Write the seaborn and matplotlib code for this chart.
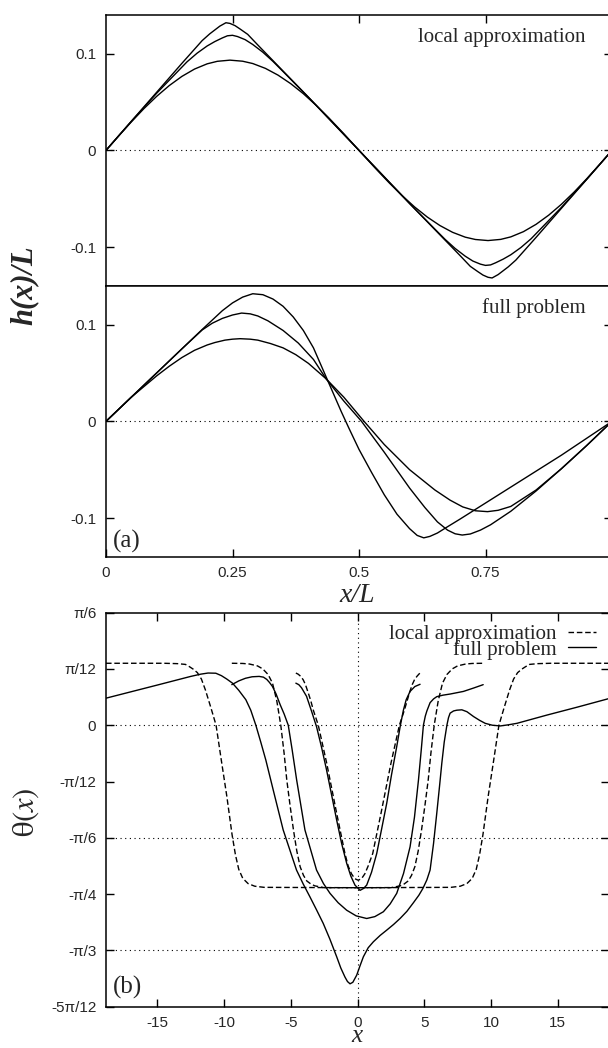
import numpy as np
import pandas as pd
import matplotlib
matplotlib.use('Agg')
import matplotlib.pyplot as plt
import seaborn as sns
from matplotlib.lines import Line2D

# ---- panel (a), local approximation: h(x)/L for three cases ----
loc1_x = [0, 0.05, 0.1, 0.15, 0.19, 0.205, 0.215, 0.225, 0.237, 0.245, 0.255, 0.265, 0.28, 0.3, 0.35, 0.4, 0.45, 0.5,
          0.55, 0.6, 0.65, 0.7, 0.72, 0.735, 0.745, 0.755, 0.763, 0.775, 0.785, 0.795, 0.81, 0.85, 0.9, 0.95, 1.0]
loc1_h = [0, 0.030, 0.060, 0.090, 0.1135, 0.1205, 0.1245, 0.1285, 0.132, 0.1313, 0.129, 0.1255, 0.120, 0.109, 0.082, 0.055, 0.0275, 0,
          -0.0275, -0.055, -0.082, -0.109, -0.120, -0.1255, -0.129, -0.1313, -0.132, -0.1285, -0.1245, -0.1205, -0.1135,
          -0.090, -0.060, -0.030, 0]
loc2_x = [0, 0.05, 0.1, 0.16, 0.18, 0.2, 0.215, 0.23, 0.24, 0.25, 0.26, 0.275, 0.29, 0.31, 0.33, 0.35, 0.4, 0.45, 0.5,
          0.55, 0.6, 0.65, 0.67, 0.69, 0.71, 0.725, 0.74, 0.75, 0.76, 0.77, 0.785, 0.8, 0.82, 0.84, 0.9, 0.95, 1.0]
loc2_h = [0, 0.030, 0.059, 0.0915, 0.1005, 0.108, 0.1125, 0.1163, 0.1185, 0.119, 0.1177, 0.1145, 0.1095, 0.1015, 0.092, 0.0815,
          0.055, 0.0275, 0,
          -0.0275, -0.055, -0.0815, -0.092, -0.1015, -0.1095, -0.1145, -0.1177, -0.119, -0.1185, -0.1163, -0.1125, -0.108,
          -0.1005, -0.0915, -0.059, -0.030, 0]
loc3_x = [0, 0.025, 0.05, 0.075, 0.1, 0.125, 0.15, 0.175, 0.2, 0.22, 0.245, 0.27, 0.29, 0.315, 0.34, 0.365, 0.39, 0.415,
          0.44, 0.47, 0.5,
          0.53, 0.56, 0.585, 0.61, 0.635, 0.66, 0.685, 0.71, 0.73, 0.755, 0.78, 0.8, 0.825, 0.85, 0.875, 0.9, 0.925,
          0.95, 0.975, 1.0]
loc3_h = [0, 0.0149, 0.0294, 0.0432, 0.0558, 0.0670, 0.0765, 0.0841, 0.0895, 0.0921, 0.0933, 0.0922, 0.0898, 0.0848,
          0.0778, 0.0690, 0.0586, 0.0467, 0.0338, 0.0172, 0,
          -0.0172, -0.0338, -0.0467, -0.0586, -0.0690, -0.0778, -0.0848, -0.0898, -0.0922, -0.0933, -0.0921, -0.0895,
          -0.0841, -0.0765, -0.0670, -0.0558, -0.0432, -0.0294, -0.0149, 0]

# ---- panel (a), full problem ----
full1_x = [0, 0.05, 0.1, 0.15, 0.19, 0.23, 0.25, 0.27, 0.29, 0.31, 0.33, 0.35, 0.37, 0.39, 0.41, 0.435, 0.45, 0.465,
           0.48, 0.5, 0.525, 0.55, 0.575, 0.6, 0.615, 0.628, 0.64, 0.655, 0.675, 0.7, 0.75, 0.8, 0.85, 0.9, 0.95, 1.0]
full1_h = [0, 0.025, 0.050, 0.075, 0.095, 0.1145, 0.1225, 0.1285, 0.132, 0.131, 0.1265, 0.119, 0.108, 0.094, 0.076,
           0.046, 0.028, 0.010, -0.007, -0.029, -0.053, -0.076, -0.096, -0.111, -0.118, -0.1205, -0.119, -0.1155,
           -0.109, -0.101, -0.0845, -0.068, -0.0515, -0.035, -0.0175, 0]
full2_x = [0, 0.05, 0.1, 0.15, 0.19, 0.21, 0.23, 0.25, 0.268, 0.285, 0.3, 0.32, 0.35, 0.38, 0.41, 0.435, 0.47, 0.505,
           0.55, 0.6, 0.63, 0.655, 0.675, 0.69, 0.704, 0.72, 0.74, 0.76, 0.8, 0.85, 0.9, 0.95, 1.0]
full2_h = [0, 0.025, 0.050, 0.075, 0.0945, 0.1015, 0.1065, 0.1100, 0.112, 0.1112, 0.1090, 0.104, 0.094, 0.081, 0.064,
           0.044, 0.021, 0.0, -0.032, -0.069, -0.089, -0.104, -0.1125, -0.1163, -0.1176, -0.1165, -0.1125, -0.107,
           -0.093, -0.072, -0.049, -0.025, 0]
full3_x = [0, 0.05, 0.1, 0.125, 0.15, 0.175, 0.2, 0.215, 0.235, 0.25, 0.265, 0.285, 0.3, 0.325, 0.35, 0.375, 0.4, 0.435,
           0.47, 0.51, 0.55, 0.6, 0.65, 0.68, 0.705, 0.73, 0.754, 0.775, 0.8, 0.85, 0.9, 0.95, 1.0]
full3_h = [0, 0.025, 0.047, 0.057, 0.066, 0.0735, 0.079, 0.0815, 0.084, 0.085, 0.0855, 0.085, 0.084, 0.0805, 0.076,
           0.069, 0.060, 0.044, 0.025, 0.0, -0.024, -0.050, -0.071, -0.0815, -0.0885, -0.0925, -0.0934, -0.092,
           -0.088, -0.071, -0.049, -0.025, 0]

# ---- panel (b): theta(x) in degrees (pi/12 = 15 deg) ----
thD1_x = [-18.85, -14.5, -13.5, -12.9, -12.6, -12.3, -12.0, -11.7, -11.4, -11.0, -10.6, -10.2, -9.8, -9.4, -9.15,
          -8.9, -8.6, -8.2, -7.7, -7.0,
          0, 7.0, 7.7, 8.2, 8.6, 8.9, 9.15, 9.4, 9.8, 10.2, 10.6, 11.0, 11.4, 11.7, 12.0, 12.3, 12.6, 12.9, 13.5,
          14.5, 18.85]
thD1_y = [16.5, 16.5, 16.4, 16.2, 15.6, 14.9, 14.0, 12.3, 9.4, 4.8, 0, -9.5, -18.8, -29.2, -34.5,
          -38.4, -40.8, -42.2, -42.9, -43.2,
          -43.3, -43.2, -42.9, -42.2, -40.8, -38.4, -34.5, -29.2, -18.8, -9.5, 0, 4.8, 9.4, 12.3, 14.0, 14.9, 15.6,
          16.2, 16.4, 16.5, 16.5]
thD2_x = [-9.42, -8.6, -8.1, -7.5, -7.1, -6.7, -6.37, -6.05, -5.75, -5.5, -5.3, -5.05, -4.8, -4.55, -4.3, -4.05, -3.8,
          -3.5, -3.2, -2.5,
          0, 2.5, 3.2, 3.5, 3.8, 4.05, 4.3, 4.55, 4.8, 5.05, 5.3, 5.5, 5.75, 6.05, 6.37, 6.7, 7.1, 7.5, 8.1, 8.6, 9.42]
thD2_y = [16.5, 16.45, 16.3, 15.8, 15.0, 13.5, 11.2, 6.5, 0, -7.5, -14.6, -21.5, -27.9, -33.5, -37.7, -40.0, -41.5,
          -42.3, -42.8, -43.3,
          -43.3, -43.3, -42.8, -42.3, -41.5, -40.0, -37.7, -33.5, -27.9, -21.5, -14.6, -7.5, 0, 6.5, 11.2, 13.5, 15.0,
          15.8, 16.3, 16.45, 16.5]
thD3_x = [-4.62, -4.45, -4.25, -4.07, -3.9, -3.7, -3.5, -3.32, -2.94, -2.31, -1.56, -0.94, -0.7, -0.45, -0.2, 0.05,
          0.3, 0.55, 0.8, 1.14, 1.76, 2.51, 3.14, 3.52, 3.72, 3.9, 4.1, 4.27, 4.45, 4.6, 4.69]
thD3_y = [13.9, 13.6, 13.0, 12.1, 10.8, 8.7, 6.5, 4.1, 0, -10.1, -23.5, -34.2, -37.5, -39.6, -40.9, -41.3,
          -40.9, -39.6, -37.5, -34.2, -23.5, -10.1, 0, 4.1, 6.5, 8.7, 10.8, 12.1, 13.0, 13.6, 13.9]
thS1_x = [-18.85, -15.0, -12.5, -11.75, -11.2, -10.62, -10.2, -9.8, -9.37, -8.9, -8.37, -8.0, -7.62, -7.25, -6.87,
          -6.3, -5.57, -5.0, -4.57, -4.07, -3.57, -3.07, -2.57, -2.07, -1.56, -1.25, -0.94, -0.75, -0.56, -0.35,
          -0.06, 0.2, 0.44, 0.8, 1.19, 1.7, 2.19, 2.7, 3.19, 3.7, 4.19, 4.6, 4.9, 5.2, 5.44, 5.7, 5.94, 6.15, 6.32,
          6.5, 6.7, 6.82, 6.94, 7.2, 7.45, 7.82, 8.2, 8.7, 9.15, 9.57, 10.1, 10.7, 11.3, 11.95, 14.2, 16.46, 18.85]
thS1_y = [7.2, 10.7, 13.0, 13.6, 13.9, 13.85, 13.2, 12.3, 11.2, 9.3, 6.8, 4.0, 0, -4.5, -9.3,
          -17.5, -27.9, -34.0, -38.6, -42.3, -45.7, -49.2, -52.8, -57.0, -61.7, -64.7, -67.1, -68.3, -68.9, -68.5,
          -66.6, -64.0, -61.7, -59.3, -57.7, -56.0, -54.6, -53.1, -51.5, -49.6, -47.3, -45.3, -43.5, -41.2, -38.6,
          -31.5, -23.5, -16.2, -10.1, -4.5, 0, 2.0, 3.2, 3.8, 4.0, 4.1, 3.6, 2.3, 1.3, 0.5, 0.0, -0.2, 0.1, 0.5, 2.7,
          4.8, 7.1]
thS2_x = [-9.42, -8.9, -8.4, -7.9, -7.37, -7.05, -6.8, -6.6, -6.37, -6.1, -5.8, -5.5, -5.19, -4.9, -4.56, -3.94,
          -3.07, -2.55, -2.06, -1.45, -0.81, -0.1, 0.69, 1.3, 1.94, 2.45, 2.94, 3.45, 3.94, 4.27, 4.57, 4.78, 4.94,
          5.08, 5.2, 5.44, 5.7, 5.94, 6.4, 6.94, 7.94, 8.7, 9.42]
thS2_y = [10.8, 11.8, 12.5, 12.9, 13.0, 12.8, 12.2, 11.4, 10.3, 8.3, 5.5, 3.0, 0, -6.5, -14.6, -27.9,
          -38.6, -42.2, -44.8, -47.3, -49.3, -50.8, -51.5, -51.0, -49.7, -47.6, -44.8, -39.5, -32.4, -24.5, -14.6,
          -6.5, 0, 2.4, 3.8, 6.0, 7.0, 7.6, 8.0, 8.3, 9.0, 9.9, 10.8]
thS3_x = [-4.62, -4.4, -4.2, -3.82, -3.45, -3.07, -2.7, -2.32, -1.94, -1.56, -1.19, -0.81, -0.5, -0.19, 0.19, 0.45,
          0.69, 1.05, 1.44, 1.8, 2.19, 2.55, 2.94, 3.2, 3.44, 3.65, 3.94, 4.3, 4.69]
thS3_y = [11.2, 10.8, 10.0, 7.7, 3.8, -0.4, -5.8, -11.9, -18.6, -25.3, -31.5, -36.8, -40.2, -42.6, -44.0, -43.5,
          -42.6, -39.2, -34.2, -27.8, -20.8, -13.2, -5.7, -0.3, 4.0, 6.8, 9.0, 10.3, 10.9]


def frame(xs, ys, name, model=None):
    d = pd.DataFrame({'x': xs, 'y': ys, 'curve': name})
    if model is not None:
        d['model'] = model
    return d


df_loc = pd.concat([frame(loc1_x, loc1_h, 'a'), frame(loc2_x, loc2_h, 'b'), frame(loc3_x, loc3_h, 'c')])
df_full = pd.concat([frame(full1_x, full1_h, 'a'), frame(full2_x, full2_h, 'b'), frame(full3_x, full3_h, 'c')])
df_theta = pd.concat([
    frame(thD1_x, thD1_y, 'D1', 'local approximation'),
    frame(thD2_x, thD2_y, 'D2', 'local approximation'),
    frame(thD3_x, thD3_y, 'D3', 'local approximation'),
    frame(thS1_x, thS1_y, 'S1', 'full problem'),
    frame(thS2_x, thS2_y, 'S2', 'full problem'),
    frame(thS3_x, thS3_y, 'S3', 'full problem'),
])

sns.set_style('ticks')
plt.rcParams['font.family'] = ['Liberation Sans', 'DejaVu Sans']
plt.rcParams['mathtext.fontset'] = 'stix'
plt.rcParams['lines.solid_joinstyle'] = 'round'
plt.rcParams['lines.dash_joinstyle'] = 'round'

W, H = 608, 1048
fig = plt.figure(figsize=(W / 100, H / 100), dpi=100)
ax1 = fig.add_axes([106 / W, 1 - 285.7 / H, 506 / W, 270.7 / H])
ax2 = fig.add_axes([106 / W, 1 - 556.7 / H, 506 / W, 270.7 / H])
ax3 = fig.add_axes([106 / W, 1 - 1006.7 / H, 503 / W, 394.1 / H])

dotted = (0, (1, 3.2))
serif = ['Liberation Serif', 'DejaVu Serif']

for ax, df in [(ax1, df_loc), (ax2, df_full)]:
    ax.axhline(0, color='black', lw=0.8, ls=dotted)
    sns.lineplot(data=df, x='x', y='y', units='curve', estimator=None, color='black',
                 lw=1.0, ax=ax, legend=False)
    ax.set_xlim(0, 1)
    ax.set_ylim(-0.14, 0.14)
    ax.set_yticks([-0.1, 0, 0.1])
    ax.set_yticklabels(['-0.1', '0', '0.1'])
    ax.set_xlabel('')
    ax.set_ylabel('')

ax1.set_xticks([0.25, 0.5, 0.75])
ax1.tick_params(axis='x', bottom=False, top=True, labelbottom=False, direction='in', length=6)
ax2.set_xticks([0, 0.25, 0.5, 0.75, 1])
ax2.set_xticklabels(['0', '0.25', '0.5', '0.75', '1'])
ax2.tick_params(axis='x', bottom=True, top=False, direction='in', length=6, pad=7)

for ax in (ax1, ax2, ax3):
    ax.tick_params(axis='y', left=True, right=True, direction='in', length=6, pad=7)
    ax.tick_params(labelsize=11, width=1.0, color='black')
    for s in ax.spines.values():
        s.set_linewidth(1.1)
        s.set_color('black')
        s.set_visible(True)

ax1.text(0.947, 0.918, 'local approximation', transform=ax1.transAxes, ha='right', va='center',
         fontsize=15, family=serif)
ax2.text(0.947, 0.918, 'full problem', transform=ax2.transAxes, ha='right', va='center',
         fontsize=15, family=serif)
ax2.text(0.013, 0.055, '(a)', transform=ax2.transAxes, ha='left', va='center', fontsize=18, family=serif)

# panel (b)
for yv in (0, -30, -60):
    ax3.axhline(yv, color='black', lw=0.8, ls=dotted)
ax3.axvline(0, color='black', lw=0.8, ls=dotted)
sns.lineplot(data=df_theta, x='x', y='y', units='curve', style='model', estimator=None,
             dashes={'local approximation': (4, 2), 'full problem': ''}, color='black',
             lw=1.0, ax=ax3, legend=False)
ax3.set_xlim(-18.85, 18.85)
ax3.set_ylim(-75, 30)
ax3.set_xticks([-15, -10, -5, 0, 5, 10, 15])
ax3.set_xticklabels(['-15', '-10', '-5', '0', '5', '10', '15'])
ax3.set_yticks([30, 15, 0, -15, -30, -45, -60, -75])
ax3.set_yticklabels(['π/6', 'π/12', '0', '-π/12', '-π/6', '-π/4', '-π/3', '-5π/12'])
ax3.tick_params(axis='x', bottom=True, top=True, direction='in', length=6, pad=7)
ax3.set_xlabel('')
ax3.set_ylabel('')
ax3.text(0.013, 0.05, '(b)', transform=ax3.transAxes, ha='left', va='center', fontsize=18, family=serif)

handles = [Line2D([], [], color='black', lw=1.0, ls=(0, (4, 2))),
           Line2D([], [], color='black', lw=1.0)]
ax3.legend(handles, ['local approximation', 'full problem'], loc='upper right',
           bbox_to_anchor=(0.975, 0.97), frameon=False, markerfirst=False,
           prop={'family': serif, 'size': 15}, handlelength=1.35, handletextpad=0.55,
           labelspacing=-0.2, borderpad=0, borderaxespad=0)

# axis titles
fig.text(24 / W, 1 - 285 / H, 'h(x)/L', rotation=90, ha='center', va='center',
         fontsize=22, family=serif, style='italic', fontweight='bold')
fig.text(357 / W, 1 - 595 / H, 'x/L', ha='center', va='center', fontsize=20, family=serif, style='italic')
fig.text(26 / W, 1 - 812 / H, r'$\mathrm{\theta}(x)$', rotation=90, ha='center', va='center', fontsize=22)
fig.text(357 / W, 1 - 1036 / H, 'x', ha='center', va='center', fontsize=18, family=serif, style='italic')

fig.savefig('out.png', dpi=100, facecolor='white')
